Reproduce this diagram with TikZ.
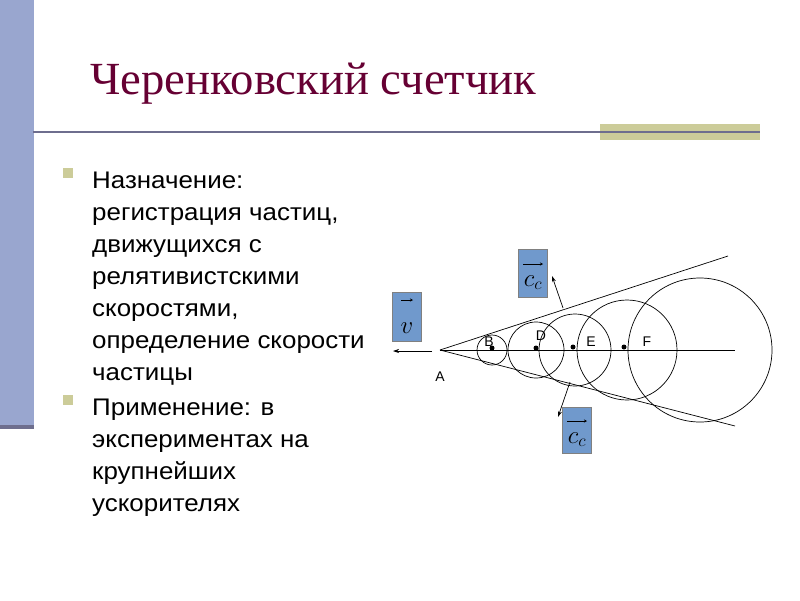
\documentclass[tikz,border=0pt]{standalone}
\usepackage{fontspec}
\setmainfont{Liberation Sans}
\newfontfamily\titlefont{Liberation Serif}
\usetikzlibrary{arrows.meta}
\definecolor{barblue}{HTML}{99A6CF}
\definecolor{olive}{HTML}{CCCC99}
\definecolor{rule}{HTML}{6E6E8E}
\definecolor{titlec}{HTML}{660033}
\definecolor{boxblue}{HTML}{7099CC}
\tikzset{
 body/.style={anchor=base west,font=\fontsize{24}{24}\selectfont,inner sep=0pt,xscale=1.08},
 lab/.style={font=\fontsize{14}{14}\selectfont,inner sep=0pt},
 vbox/.style={draw=gray,fill=boxblue,minimum width=29pt,inner sep=0pt},
 thin/.style={line width=0.7pt},
 arr/.style={thin,-{Stealth[length=6pt,width=4pt]}},
 vecarr/.style={line width=0.8pt,-{Stealth[length=3pt,width=3pt]}},
 dot/.style={circle,fill=black,inner sep=0pt,minimum size=5pt}
}
\begin{document}
\begin{tikzpicture}[x=1pt,y=-1pt]
\useasboundingbox (0,0) rectangle (800,600);
\fill[barblue] (0,0) rectangle (34,425);
\fill[rule] (0,425) rectangle (34,429);
\fill[olive] (600,124) rectangle (760,140);
\draw[rule,line width=2.5pt] (33,132) -- (760,132);
\node[anchor=base west,inner sep=0pt,text=titlec,font=\titlefont\fontsize{46}{46}\selectfont,xscale=1.015] (title) at (90,94) {Черенковский счетчик};
\foreach \y in {168,395}{\fill[olive] (63,\y) rectangle (73,\y+10);}
\node[body] (t1) at (92,188) {Назначение:};
\node[body] (t2) at (92,220) {регистрация частиц,};
\node[body] (t3) at (92,252) {движущихся с};
\node[body] (t4) at (92,284) {релятивистскими};
\node[body] (t5) at (92,316) {скоростями,};
\node[body] (t6) at (92,348) {определение скорости};
\node[body] (t7) at (92,380) {частицы};
\node[body] (t8) at (92,415) {Применение: в};
\node[body] (t9) at (92,447) {экспериментах на};
\node[body] (t10) at (92,479) {крупнейших};
\node[body] (t11) at (92,511) {ускорителях};
% diagram
\coordinate (A) at (440,350);
\coordinate (axisend) at (735,350);
\coordinate (up) at (728,256);
\coordinate (lo) at (735,426);
\draw[thin] (A) -- (axisend);
\draw[thin] (A) -- (up);
\draw[thin] (A) -- (lo);
\draw[thin] (492,350) circle (15);
\draw[thin] (536,350) circle (28);
\draw[thin] (575,350) circle (36);
\draw[thin] (627,350) circle (50);
\draw[thin] (700,350) circle (72);
\node[dot] (B) at (492,348) {};
\node[dot] (D) at (536,348) {};
\node[dot] (E) at (573,347) {};
\node[dot] (F) at (624,347) {};
\node[lab] at (489,342) {B};
\node[lab] at (541,336) {D};
\node[lab] at (591,342) {E};
\node[lab] at (647,342) {F};
\node[lab] at (440,377) {A};
\coordinate (a0) at (432,351);
\coordinate (a1) at (393,351);
\draw[arr] (a0) -- (a1);
\node[vbox,minimum height=49pt] (vb) at (407,317) {};
\node[anchor=base,inner sep=0pt,font=\fontsize{34}{34}\selectfont] at (407,333) {$v$};
\draw[vecarr] (401,300) -- (413,300);
\node[vbox,minimum height=48pt] (cu) at (533,273) {};
\node[anchor=base,inner sep=0pt,font=\fontsize{24}{24}\selectfont] at (533,286) {$c_c$};
\draw[vecarr] (523,264) -- (543,264);
\node[vbox,minimum height=46pt] (cl) at (577,430) {};
\node[anchor=base,inner sep=0pt,font=\fontsize{24}{24}\selectfont] at (577,443) {$c_c$};
\draw[vecarr] (567,421) -- (587,421);
\coordinate (u0) at (563,308);
\coordinate (u1) at (552,276);
\coordinate (l0) at (570,382);
\coordinate (l1) at (558,417);
\draw[arr] (u0) -- (u1);
\draw[arr] (l0) -- (l1);
\end{tikzpicture}
\end{document}
